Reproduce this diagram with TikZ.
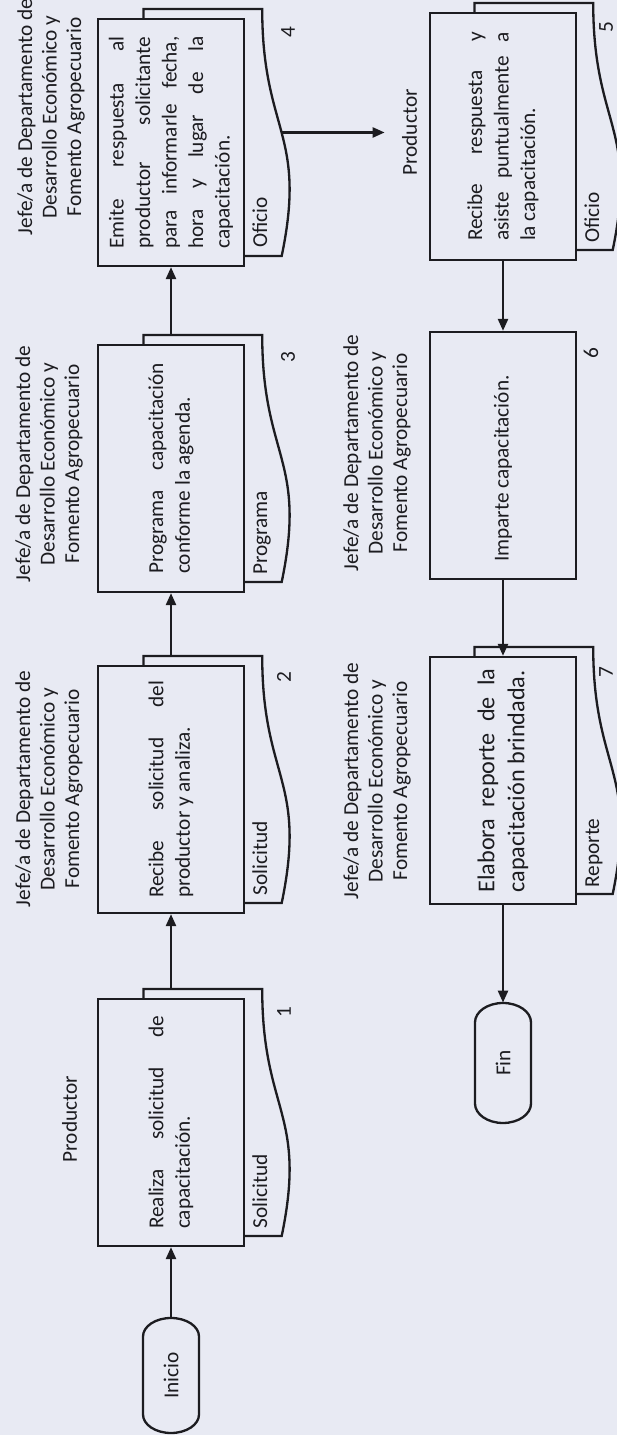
\documentclass[tikz,border=0pt]{standalone}
\usepackage{fontspec}
\setmainfont{Carlito}
\usetikzlibrary{arrows.meta}
\definecolor{bgc}{RGB}{232,234,243}
\definecolor{ink}{RGB}{28,28,32}
\newlength\uu
\setlength\uu{0.5164pt}
\newcommand\jst[1]{\hbox to\hsize{#1}}
\newcommand\lst[1]{\hbox to\hsize{#1\hfil}}
\newcommand\btext[3]{\vbox{\hsize=#1\uu\baselineskip=#2\relax #3}}
\newcommand\docshape[2]{\draw[docst] (#1,#2) -- ({#1+247},#2) -- ({#1+247},{#2+118.7}) .. controls ({#1+123.5},{#2+118.7}) and ({#1+123.5},{#2+163.9}) .. (#1,{#2+138.2}) -- cycle;}
\newcommand\termshape[4]{\draw[ln,fill=bgc] ({#1+#4},{#3-28}) -- ({#2-#4},{#3-28}) .. controls ({#2-0.4477*#4},{#3-28}) and (#2,{#3-15.46}) .. (#2,#3) .. controls (#2,{#3+15.46}) and ({#2-0.4477*#4},{#3+28}) .. ({#2-#4},{#3+28}) -- ({#1+#4},{#3+28}) .. controls ({#1+0.4477*#4},{#3+28}) and (#1,{#3+15.46}) .. (#1,#3) .. controls (#1,{#3-15.46}) and ({#1+0.4477*#4},{#3-28}) .. ({#1+#4},{#3-28}) -- cycle;}
\begin{document}
\begin{tikzpicture}[x=0.5164pt,y=-0.5164pt,rotate=90,transform shape,
  ln/.style={draw=ink,line width=1.2pt},
  docst/.style={ln,fill=bgc},
  box/.style={ln,fill=bgc,minimum width=247\uu,minimum height=146\uu,inner sep=0pt,text=ink,font=\fontsize{11}{13.7}\selectfont},
  hdr/.style={align=center,inner sep=0pt,text=ink,font=\fontsize{11}{12.65}\selectfont},
  lbl/.style={anchor=base west,inner sep=0pt,text=ink,font=\fontsize{11}{13}\selectfont},
  num/.style={inner sep=0pt,text=ink,font=\fontsize{11}{13}\selectfont},
  term/.style={inner sep=0pt,minimum height=56\uu,text=ink,font=\fontsize{11}{13}\selectfont},
  arr/.style={ln,-{Triangle[length=6.2pt,width=5.2pt]}}]
\useasboundingbox (0,0) rectangle (1435,617);
\fill[bgc] (0,0) rectangle (1435,617);
% documents behind boxes
\docshape{199}{143.5}
\docshape{532}{143.5}
\docshape{853}{143.5}
\docshape{1179}{143.5}
\docshape{1185}{474.5}
\docshape{541}{474.5}
% terminators
\termshape{2}{117}{171}{18.5}
\termshape{312}{432}{503}{19.4}
\node[term,minimum width=115\uu] (ini) at (59.5,171) {Inicio};
\node[term,minimum width=120\uu] (fin) at (372,503) {Fin};
% process boxes
\node[box] (b1) at (312.5,171) {\btext{213}{13.7pt}{\jst{Realiza\hfill solicitud\hfill de}\lst{capacitación.}}};
\node[box] (b2) at (645.5,171) {\btext{217}{13.7pt}{\jst{Recibe\hfill solicitud\hfill del}\lst{productor y analiza.}}};
\node[box] (b3) at (966.5,171) {\btext{211}{13.7pt}{\jst{Programa\hfill capacitación}\lst{conforme la agenda.}}};
\node[box] (b4) at (1292.5,171) {\btext{212}{13.7pt}{\jst{Emite\hfill respuesta\hfill al}\jst{productor\hfill solicitante}\jst{para\hfill informarle\hfill fecha,}\jst{hora\hfill y\hfill lugar\hfill de\hfill la}\lst{capacitación.}}};
\node[box] (b5) at (1298.5,503) {\btext{209}{13.7pt}{\jst{Recibe\hfill respuesta\hfill y}\jst{asiste\hfill puntualmente\hfill a}\lst{la capacitación.}}};
\node[box] (b6) at (979.5,503) {\btext{213}{13.7pt}{\lst{Imparte capacitación.}}};
\node[box,font=\fontsize{12.5}{15.5}\selectfont] (b7) at (654.5,503) {\btext{224}{15.5pt}{\jst{Elabora\hfill reporte\hfill de\hfill la}\lst{capacitación brindada.}}};
% document labels
\node[lbl] (l1) at (206,267) {Solicitud};
\node[lbl] (l2) at (539,267) {Solicitud};
\node[lbl] (l3) at (860,267) {Programa};
\node[lbl] (l4) at (1187,267) {Oficio};
\node[lbl] (l5) at (1192,599) {Oficio};
\node[lbl] (l7) at (547,599) {Reporte};
% step numbers
\node[num] (n1) at (423,284) {1};
\node[num] (n2) at (758,284) {2};
\node[num] (n3) at (1078,288) {3};
\node[num] (n4) at (1403,288) {4};
\node[num] (n5) at (1408,606) {5};
\node[num] (n6) at (1082,591) {6};
\node[num] (n7) at (763,606) {7};
% lane headers
\node[hdr] (h1) at (316,69.5) {Productor};
\node[hdr] (h2) at (646,49) {Jefe/a de Departamento de\\Desarrollo Económico y\\Fomento Agropecuario};
\node[hdr] (h3) at (971,49) {Jefe/a de Departamento de\\Desarrollo Económico y\\Fomento Agropecuario};
\node[hdr] (h4) at (1318,51) {Jefe/a de Departamento de\\Desarrollo Económico y\\Fomento Agropecuario};
\node[hdr] (h5) at (1302.5,409.5) {Productor};
\node[hdr] (h6) at (982,377) {Jefe/a de Departamento de\\Desarrollo Económico y\\Fomento Agropecuario};
\node[hdr] (h7) at (654,377) {Jefe/a de Departamento de\\Desarrollo Económico y\\Fomento Agropecuario};
% connector end points on document edges
\coordinate (d1e) at (446,171);
\coordinate (d2e) at (779,171);
\coordinate (d3e) at (1100,171);
\coordinate (d4w) at (1302.5,281.6);
% connectors
\draw[arr] (ini.east) -- (b1.west);
\draw[arr] (d1e) -- (b2.west);
\draw[arr] (d2e) -- (b3.west);
\draw[arr] (d3e) -- (b4.west);
\draw[arr,shorten >=8.8pt] (d4w) -- (h5.north);
\draw[arr] (b5.west) -- (b6.east);
\draw[arr] (b6.west) -- (b7.east);
\draw[arr] (b7.west) -- (fin.east);
\end{tikzpicture}
\end{document}
